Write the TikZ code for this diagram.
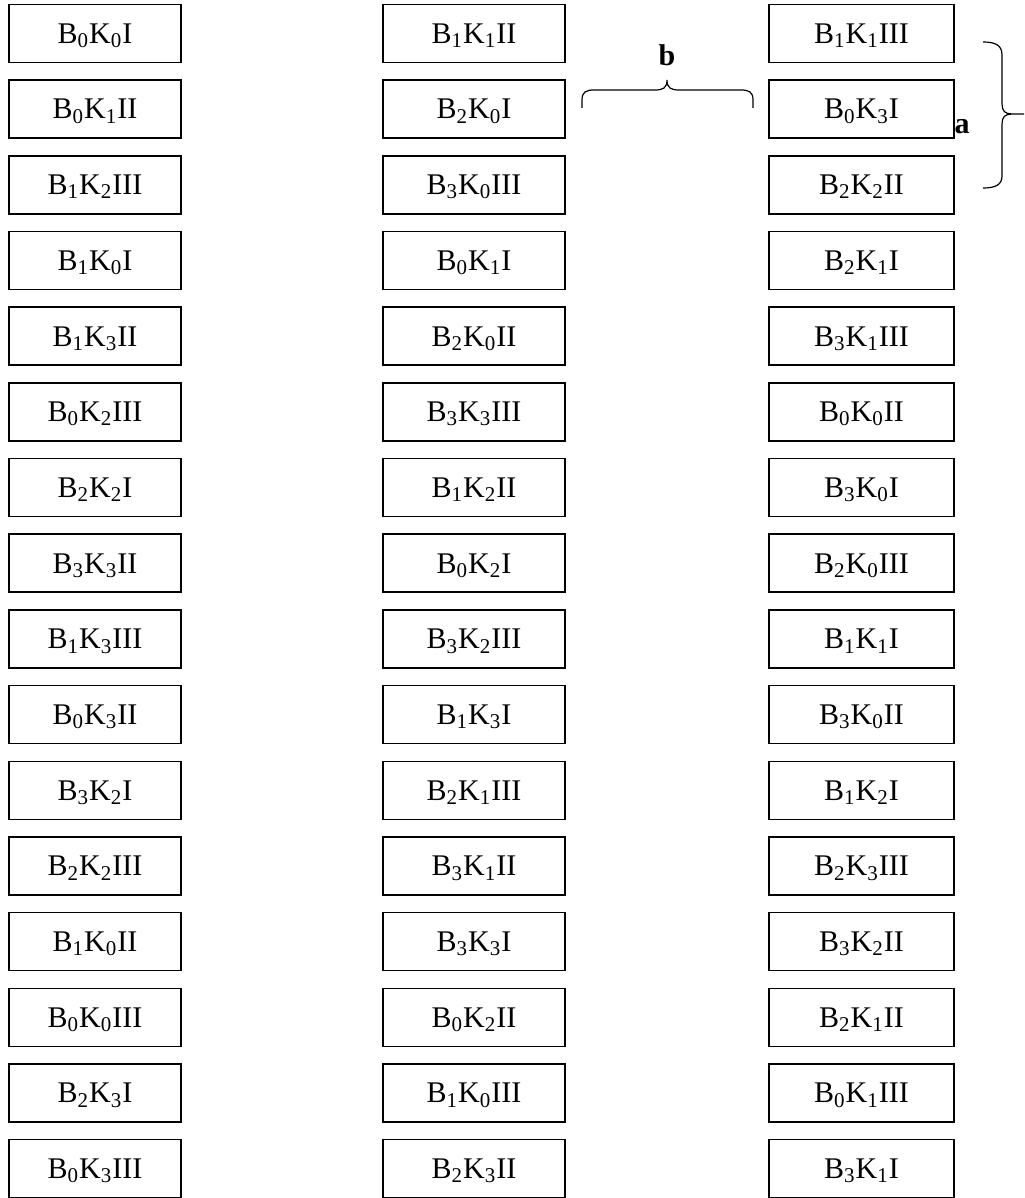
\documentclass[tikz,border=0pt]{standalone}
\usepackage{fontspec}
\setmainfont{Liberation Serif}
\usepackage{tikz}
\usetikzlibrary{calc, positioning}

\newcommand{\bk}[3]{B\textsubscript{#1}K\textsubscript{#2}#3}

\begin{document}
\begin{tikzpicture}[x=0.5pt, y=-0.5pt]
    \tikzset{
        cell/.style={
            draw, line width=0.7pt, inner sep=0pt,
            minimum height=29pt, text depth=0pt,
            font=\fontsize{15}{18}\selectfont
        },
        brace line/.style={line width=0.6pt},
        brace label/.style={font=\fontsize{15}{18}\selectfont\bfseries, inner sep=0pt}
    }

    \useasboundingbox (0, 0) rectangle (1024, 1198);

    \foreach \b/\k/\r [count=\i from 0] in {0/0/I, 0/1/II, 1/2/III, 1/0/I, 1/3/II, 0/2/III, 2/2/I, 3/3/II,
                                            1/3/III, 0/3/II, 3/2/I, 2/2/III, 1/0/II, 0/0/III, 2/3/I, 0/3/III}
        \node[cell, minimum width=86pt] (L\i) at (95, {33.5+75.67*\i}) {\bk{\b}{\k}{\r}};

    \foreach \b/\k/\r [count=\i from 0] in {1/1/II, 2/0/I, 3/0/III, 0/1/I, 2/0/II, 3/3/III, 1/2/II, 0/2/I,
                                            3/2/III, 1/3/I, 2/1/III, 3/1/II, 3/3/I, 0/2/II, 1/0/III, 2/3/II}
        \node[cell, minimum width=91pt] (M\i) at (474, {33.5+75.67*\i}) {\bk{\b}{\k}{\r}};

    \foreach \b/\k/\r [count=\i from 0] in {1/1/III, 0/3/I, 2/2/II, 2/1/I, 3/1/III, 0/0/II, 3/0/I, 2/0/III,
                                            1/1/I, 3/0/II, 1/2/I, 2/3/III, 3/2/II, 2/1/II, 0/1/III, 3/1/I}
        \node[cell, minimum width=92.5pt] (R\i) at (861.5, {33.5+75.67*\i}) {\bk{\b}{\k}{\r}};

    \coordinate (btip) at (667, 80);
    \coordinate (atip) at (1024, 114);

    \draw[brace line] (582, 108) -- (582, 100) .. controls (582, 92) and (586, 90) .. (594, 90)
        -- (655, 90) .. controls (663, 90) and (667, 88) .. (btip)
        .. controls (667, 88) and (671, 90) .. (679, 90) -- (741, 90)
        .. controls (749, 90) and (753, 92) .. (753, 100) -- (753, 108);

    \draw[brace line] (983, 42) .. controls (995, 42) and (1002, 45) .. (1002, 55)
        -- (1002, 104) .. controls (1002, 111) and (1005, 114) .. (1012, 114) -- (atip)
        (atip) -- (1012, 114) .. controls (1005, 114) and (1002, 117) .. (1002, 124)
        -- (1002, 176) .. controls (1002, 185) and (995, 188) .. (983, 188);

    \node[brace label] (blabel) at (667, 55) {b};
    \node[brace label] (alabel) at (962, 127) {a};

\end{tikzpicture}
\end{document}
